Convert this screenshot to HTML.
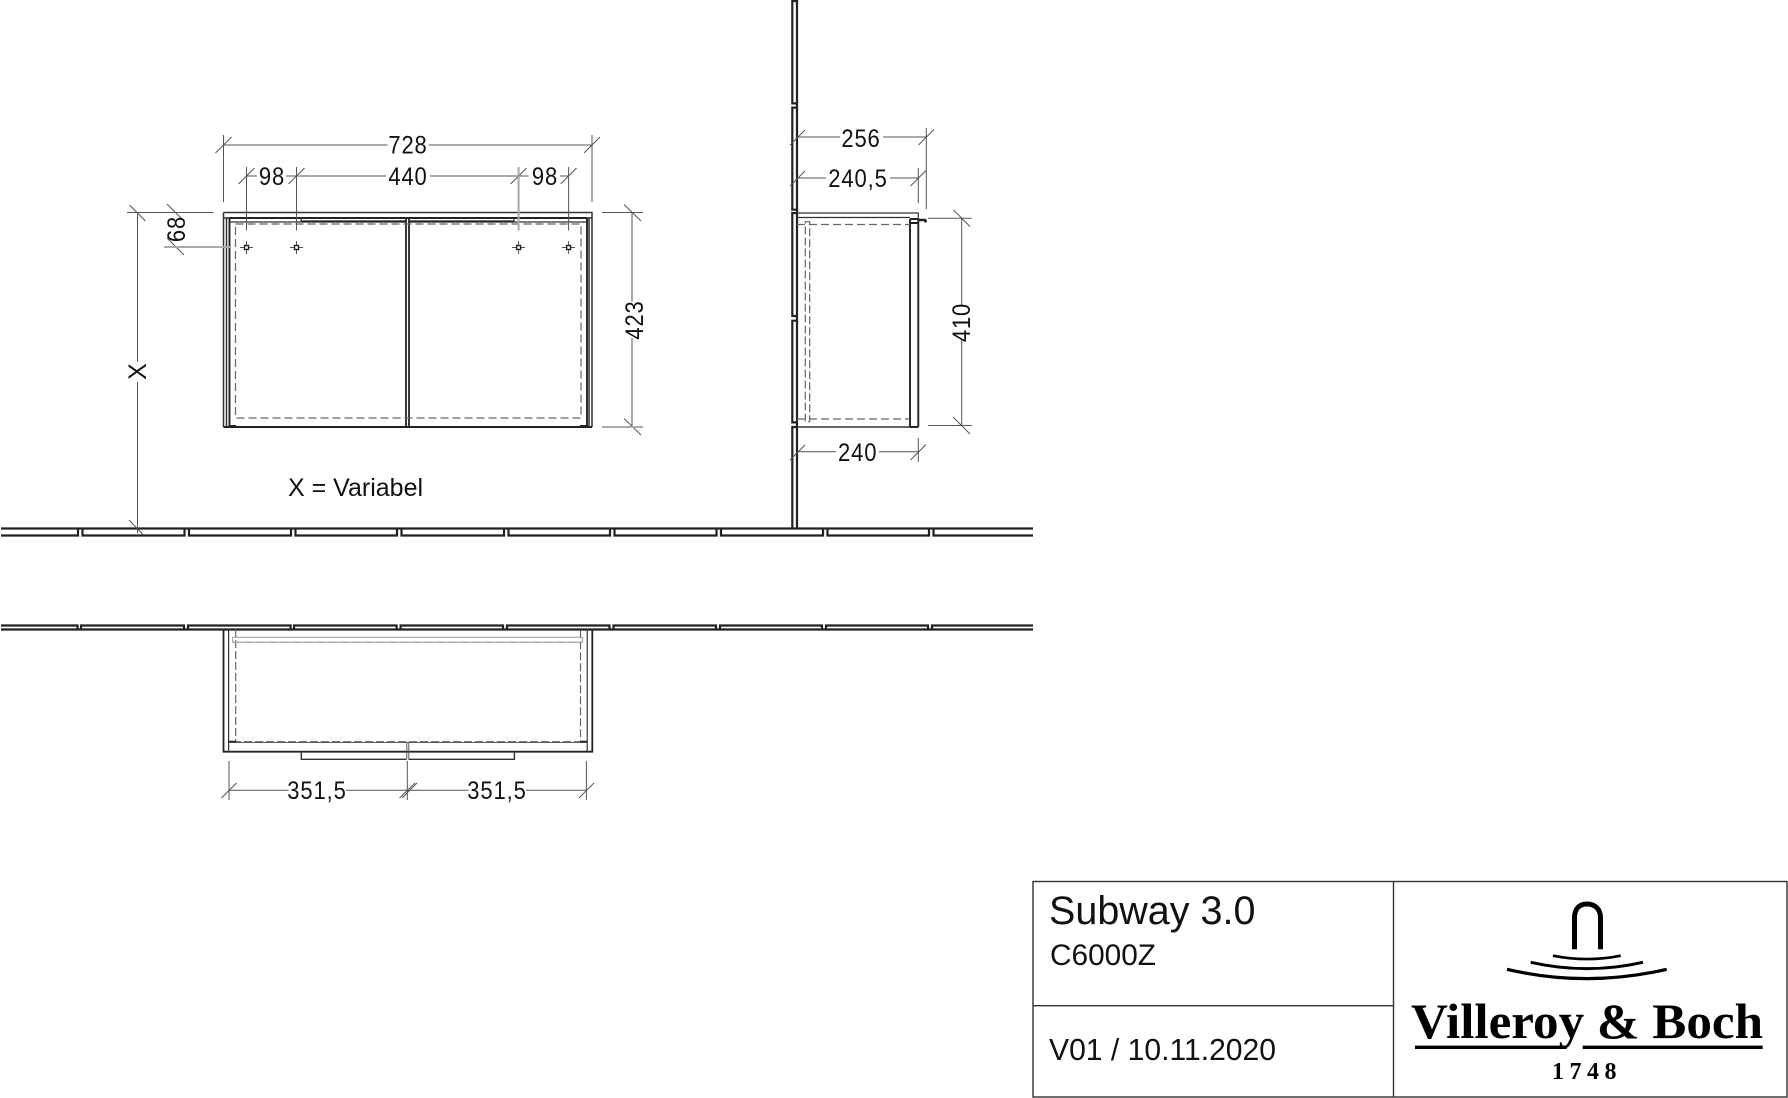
<!DOCTYPE html>
<html><head><meta charset="utf-8"><style>
html,body{margin:0;padding:0;background:#fff;width:1788px;height:1098px;overflow:hidden}
svg{display:block}
.d{fill:#111;font-family:"Liberation Sans",sans-serif;font-size:25px;letter-spacing:1px;text-anchor:middle}
.t{fill:#111;font-family:"Liberation Sans",sans-serif}
.dim{stroke:#555;stroke-width:1;fill:none}
.gr{stroke:#aaa;stroke-width:2;fill:none}
.th{stroke:#222;fill:none;stroke-width:2.2}
.m{stroke:#333;fill:none;stroke-width:1.2}
.da{stroke:#666;fill:none;stroke-width:1.2;stroke-dasharray:8 4}
</style></head><body>
<svg width="1788" height="1098" viewBox="0 0 1788 1098" xmlns="http://www.w3.org/2000/svg">
<rect width="1788" height="1098" fill="#fff"/>

<!-- upper wall -->
<path class="th" d="M1 528.5H1033"/>
<path class="th" d="M1 535.5H78V528.5M82.5 528.5V535.5H184.5V528.5M189 528.5V535.5H291V528.5M295.5 528.5V535.5H397V528.5M401.5 528.5V535.5H504V528.5M508.5 528.5V535.5H610V528.5M614.5 528.5V535.5H716.5V528.5M721 528.5V535.5H823V528.5M827.5 528.5V535.5H929V528.5M933.5 528.5V535.5H1033"/>
<!-- lower wall -->
<path class="th" d="M1 629.5H1033"/>
<path class="th" d="M1 625.5H77.5V629M81 629V625.5H184V629M188 629V625.5H290.6V629M294 629V625.5H396.6V629M400.6 629V625.5H503V629M507 629V625.5H609.5V629M613.5 629V625.5H716V629M720 629V625.5H822V629M826 629V625.5H928V629M932 629V625.5H1033"/>
<!-- vertical wall -->
<path class="th" d="M797 0V529"/>
<path class="th" d="M797 1H792.3V103.4H797M797 107.6H792.3V209.7H797M797 213H792.3V316H797M797 320.7H792.3V422.4H797M797 427H792.3V528"/>

<!-- front elevation -->
<path class="m" d="M223.5 212.5H592V427M223.5 212.5V427M223.5 218H592M592 218H587M226.5 218V427M589 218V427" style="stroke-width:1.5"/>
<path class="th" d="M229.5 218V427M587 218V427M229.5 218H587M223.5 427H592" style="stroke-width:1.9"/>
<path class="th" d="M406 218V427M409 218V427" style="stroke-width:1.8"/>
<path class="m" d="M229.5 222H301M301 218V222"/>
<path class="th" d="M301 221.5H406M409 221.5H514"/>
<path class="m" d="M514 218V222M514 222H587"/>
<path class="th" d="M229 426.5H236M580 426.5H587" style="stroke-width:3"/>
<path class="da" d="M235.5 224H581V418H235.5Z"/>
<!-- screw holes -->
<g class="dim"><path d="M240 247.5H253M246.5 241V254M290 247.5H303M296.5 241V254M512 247.5H525M518.6 241V254M562 247.5H575M568.6 241V254"/></g>
<g fill="#fff" stroke="#222" stroke-width="1.4"><rect x="244.5" y="245.5" width="4" height="4"/><rect x="294.5" y="245.5" width="4" height="4"/><rect x="516.6" y="245.5" width="4" height="4"/><rect x="566.6" y="245.5" width="4" height="4"/></g>

<!-- front dims -->
<g class="dim">
<path d="M223.5 145H387.5M428.6 145H592M223.5 135V202M592 135V202M215.5 153L231.5 137M584 153L600 137"/>
<path d="M247 176H257M286 176H386M430 176H518.6M528.6 176H518.6M560 176H568.6M246.5 167V230.5M296.5 167V230.5M568.6 167V230.5M238.5 184L254.5 168M288.5 184L304.5 168M510.6 184L526.6 168M560.6 184L576.6 168"/>
<path d="M127 212.5H213.6M137.5 212.5V361.7M137.5 381.7V533M129.5 205L145.5 221M129 520L143.5 535"/>
<path d="M167 212.5H184M167 204L184 221M167 238L184 255"/>
<path d="M602 212.5H643M632 212.5V301.7M632 338V427M624 204.5L641 221M624 418.5L641 435"/>
</g>
<path class="gr" d="M164 247H230M602 427H643M518.6 167V230.5"/>
<text class="d" transform="translate(408,153.5) scale(.88,1)">728</text>
<text class="d" transform="translate(272,185) scale(.88,1)">98</text>
<text class="d" transform="translate(408,185) scale(.88,1)">440</text>
<text class="d" transform="translate(545,185) scale(.88,1)">98</text>
<text class="d" transform="translate(185,229) rotate(-90) scale(.88,1)">68</text>
<text class="d" transform="translate(146,371) rotate(-90)">X</text>
<text class="d" transform="translate(643,320) rotate(-90) scale(.88,1)">423</text>
<text class="t" x="288" y="496" style="font-size:25px">X = Variabel</text>

<!-- side view -->
<path class="m" d="M797 213H918.3V427M797 217.5H910"/>
<path class="th" d="M910 219V427M918.3 219V427M910 427H918.3M910 219H918.3M910 223H918.3" style="stroke-width:1.9"/>
<path class="m" d="M797 427H910" style="stroke-width:1.6"/>
<path class="th" d="M918 220H926M925.5 219.5V222.5" style="stroke-width:2.6"/>
<path class="da" d="M797 224.5H909.7M797 419H909.7"/>
<path class="da" d="M805.3 221.7H809.7V421.7H805.3Z" style="stroke-dasharray:8 3"/>
<g class="dim">
<path d="M797 137H840M883 137H926.3M926.3 128V209M918.5 145L934 129.5M790 145L805 130"/>
<path d="M826 178H797M890 178H918.3M918.3 168V203M910.5 186L926 170.5M790 186L805 171"/>
<path d="M797 451.7H836M879 451.7H918.3M918.3 438V462M910.5 460L926 444.5M790 460L805 445"/>
<path d="M928 218.3H971.7M928 425.5H971.7M961.7 218.3V305M961.7 340V425.5M953.5 210L970 226.5M953.5 417.5L970 434"/>
</g>
<text class="d" transform="translate(861,147) scale(.88,1)">256</text>
<text class="d" transform="translate(858,187) scale(.88,1)">240,5</text>
<text class="d" transform="translate(857.7,461) scale(.88,1)">240</text>
<text class="d" transform="translate(970,322.5) rotate(-90) scale(.88,1)">410</text>

<!-- plan view -->
<path class="th" d="M223.5 629V751.7H592.3V629" style="stroke-width:1.8"/>
<path class="m" d="M228.6 629V751.7M587.2 629V751.7"/>
<path class="dim" d="M228.6 742.5H587.2"/>
<path class="da" d="M235.7 629V741.7H580.5V629" style="stroke-dasharray:8 3"/>
<rect x="232.5" y="637.3" width="350" height="5" fill="none" stroke="#aaa" stroke-width="1.2"/>
<path d="M232.5 642.3H582.5" stroke="#aaa" stroke-width="1.6" stroke-dasharray="8 4"/>
<path class="th" d="M229 741.5H235.7M580.5 741.5H587" style="stroke-width:1.4"/>
<path class="m" d="M301.3 751.7V759.3H406.5M408.5 759.3H514.4V751.7" style="stroke-width:1.4"/>
<path class="dim" d="M406.8 742V759.3M408.8 742V759.3"/>
<g class="dim">
<path d="M229 790.3H288.6M346 790.3H468.5M526 790.3H586.4"/>
<path d="M229 761V800M407.3 761V800M586.4 761V800M221.5 798L236.5 783M399.5 798L415 783M402 798L417 783M579 798L594 783"/>
</g>
<text class="d" transform="translate(317,799) scale(.88,1)">351,5</text>
<text class="d" transform="translate(497,799) scale(.88,1)">351,5</text>

<!-- title block -->
<g stroke="#333" stroke-width="1.4" fill="none">
<rect x="1033" y="881.5" width="754" height="215.5"/>
<path d="M1393.5 881.5V1097M1033 1005.7H1393.5"/>
</g>
<text class="t" x="1049" y="924" style="font-size:39.5px">Subway 3.0</text>
<text class="t" x="1050" y="965" style="font-size:29.8px">C6000Z</text>
<text class="t" x="1049" y="1060" style="font-size:30.1px">V01 / 10.11.2020</text>

<!-- logo -->
<path d="M1574.5 949.3V918C1574.5 909 1579 904 1587 904C1595 904 1600.5 909 1600.5 918V949.3" fill="none" stroke="#000" stroke-width="5"/>
<path d="M1553 955.7Q1587 962.5 1620.7 955.7" fill="none" stroke="#000" stroke-width="2.6"/>
<path d="M1530.7 962.3Q1587 975 1643 962.3" fill="none" stroke="#000" stroke-width="3"/>
<path d="M1507 969.3Q1587 988 1666.7 969.3" fill="none" stroke="#000" stroke-width="3.2"/>
<text x="1411" y="1038" textLength="352" lengthAdjust="spacingAndGlyphs" style="font-family:'Liberation Serif',serif;font-weight:bold;font-size:50px" fill="#000">Villeroy &amp; Boch</text>
<path d="M1415 1047.3H1566.7M1582.7 1047.3H1762.7" stroke="#000" stroke-width="3.4"/>
<text x="1587" y="1079" text-anchor="middle" style="font-family:'Liberation Serif',serif;font-weight:bold;font-size:24px;letter-spacing:5.5px" fill="#000">1748</text>
</svg>
</body></html>
